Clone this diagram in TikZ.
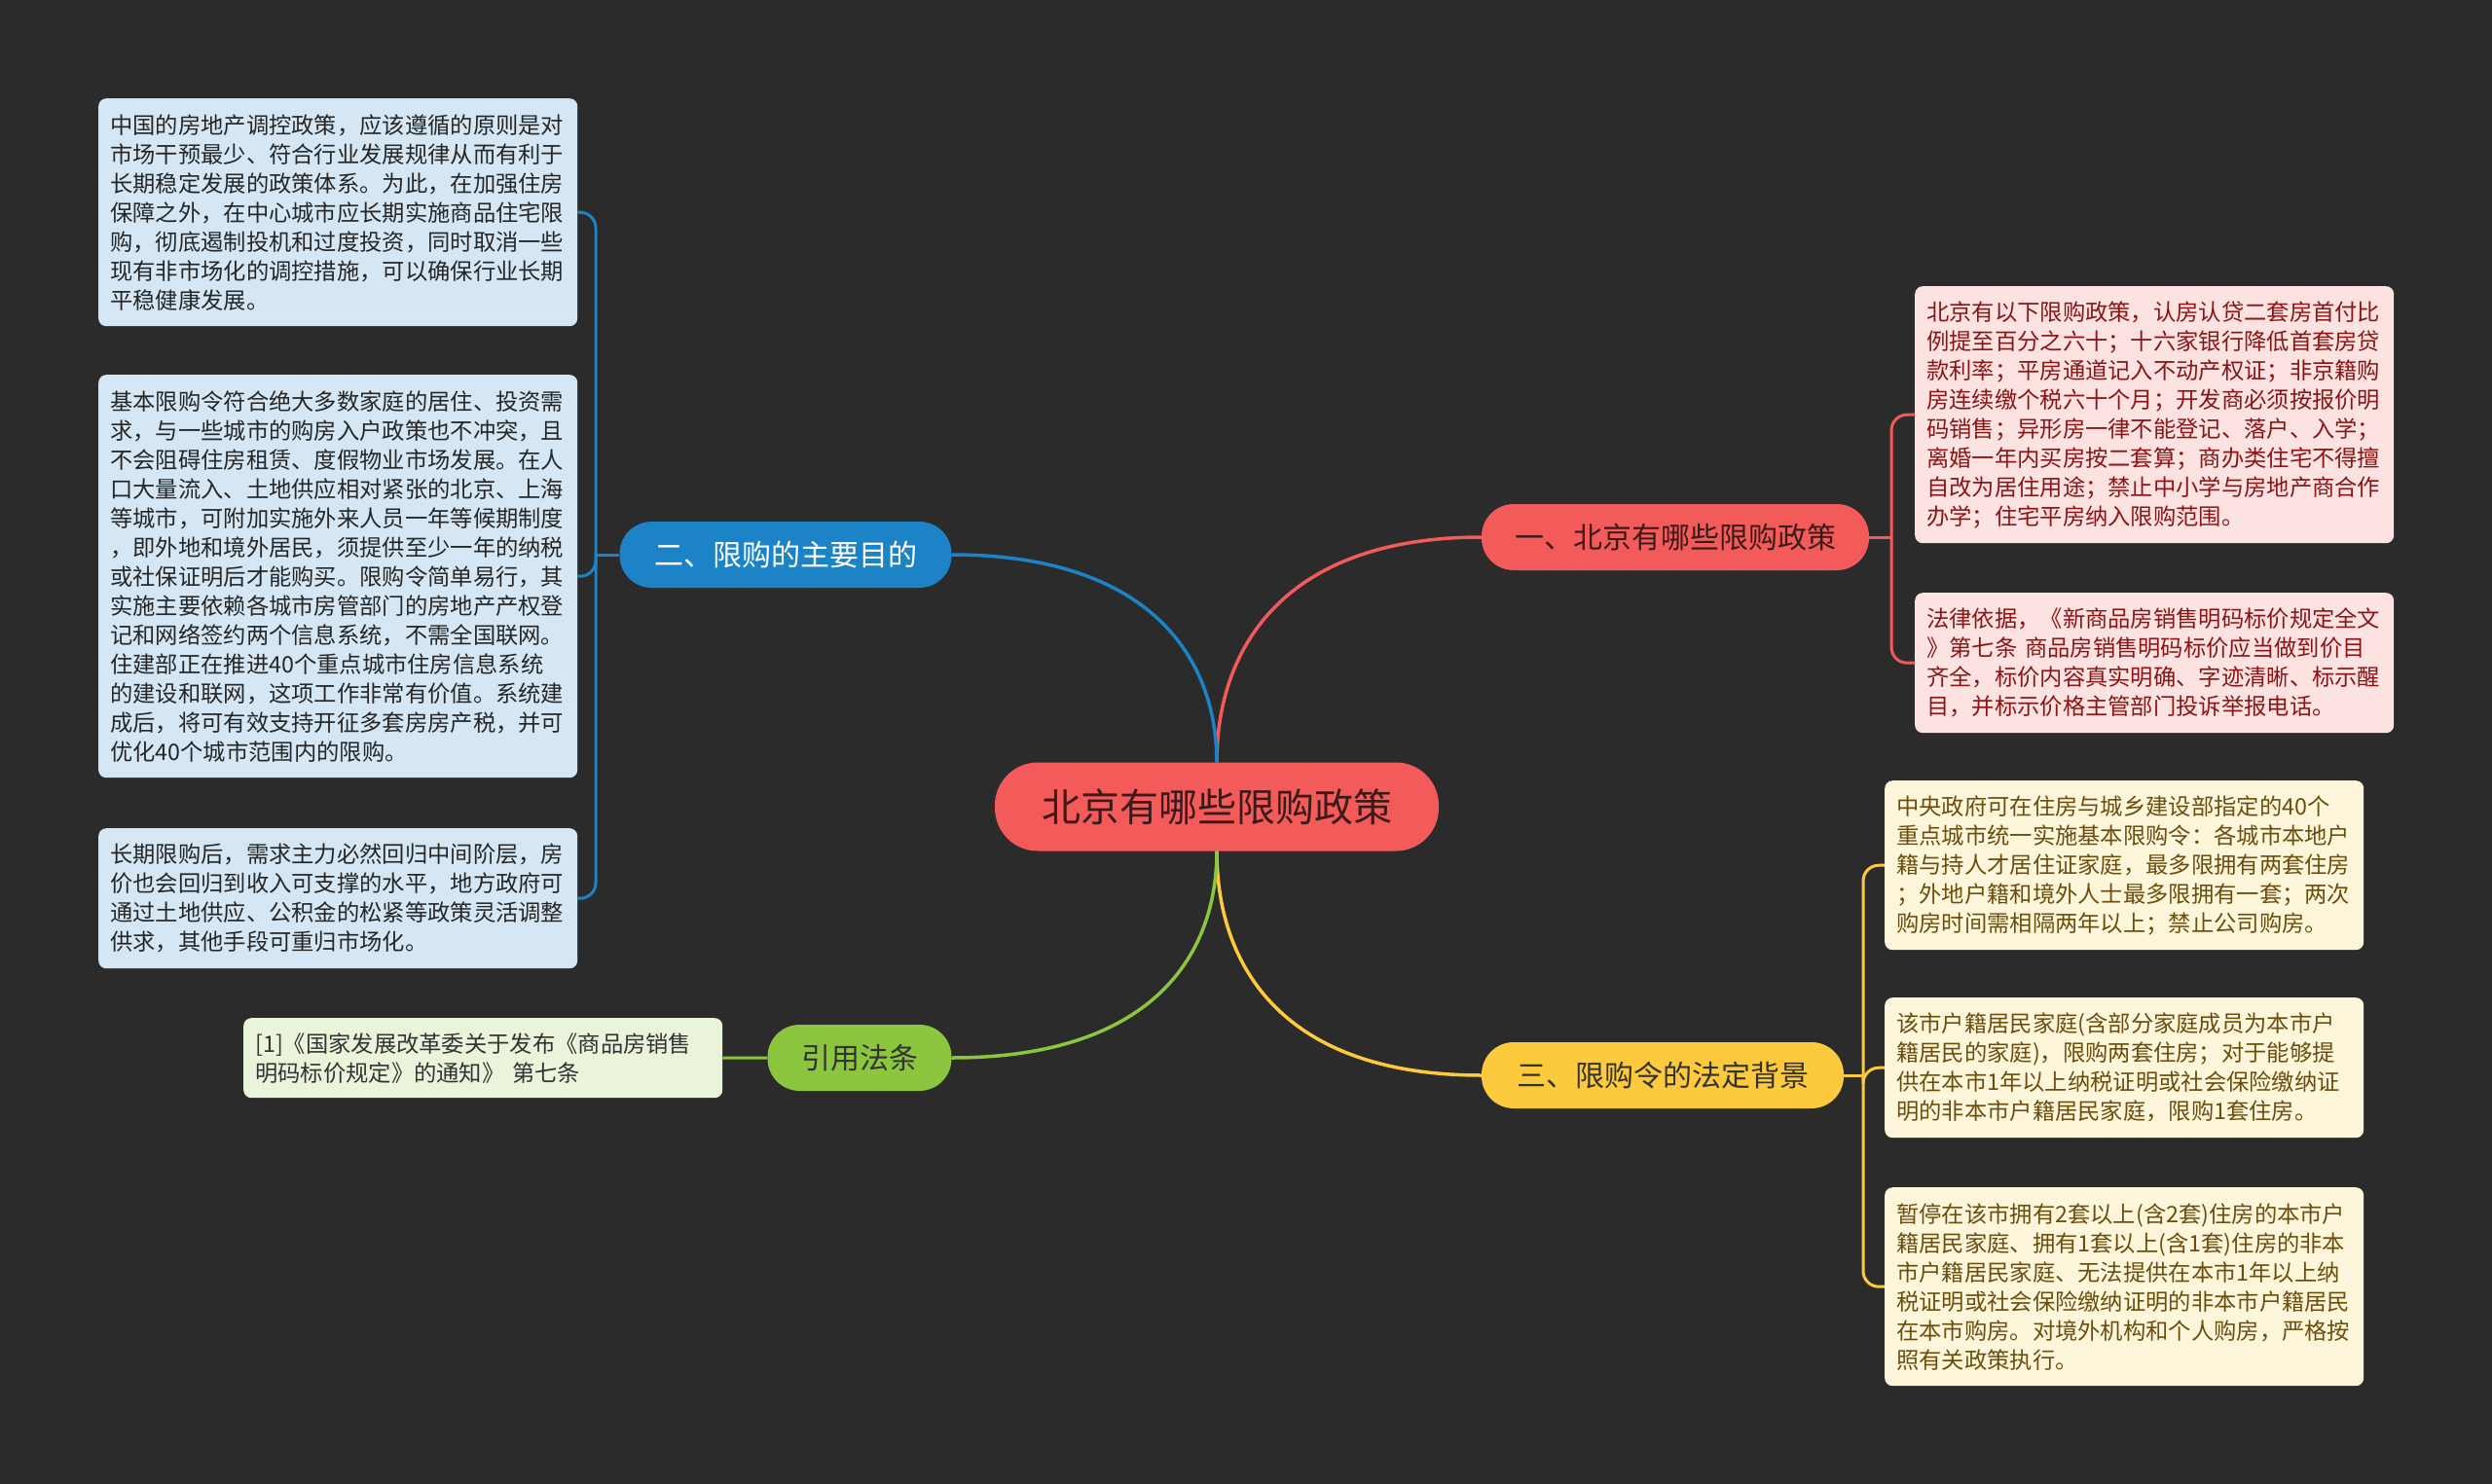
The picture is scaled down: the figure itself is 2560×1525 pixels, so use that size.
\documentclass[tikz,border=0pt]{standalone}
\usepackage{fontspec}
\newfontfamily\cjk{Noto Sans CJK SC}
\definecolor{bg}{HTML}{2B2B2B}
\definecolor{cred}{HTML}{F35B5B}
\definecolor{cblue}{HTML}{1C84C6}
\definecolor{cyellow}{HTML}{FDCA3E}
\definecolor{cgreen}{HTML}{8CC63E}
\definecolor{fblue}{HTML}{D5E7F4}
\definecolor{fred}{HTML}{FDE2E2}
\definecolor{fyellow}{HTML}{FEF6DB}
\definecolor{fgreen}{HTML}{E9F4DB}
\definecolor{tred}{HTML}{8A1515}
\definecolor{tyellow}{HTML}{6B4E0E}
\definecolor{tdark}{HTML}{3C1A1A}
\begin{document}
\begin{tikzpicture}[x=1pt,y=-1pt,
  leaf/.style={rectangle, rounded corners=8pt, minimum width=492pt, inner xsep=12pt, inner ysep=0pt,
    text width=468pt, align=left, anchor=north west, font=\cjk\fontsize{23.3}{30}\selectfont},
  leafblue/.style={leaf, fill=fblue, text=black!85},
  leafred/.style={leaf, fill=fred, text=tred},
  leafyellow/.style={leaf, fill=fyellow, text=tyellow},
  leafgreen/.style={leaf, fill=fgreen, text=black!80},
  branch/.style={rectangle, rounded corners=33pt, minimum height=68pt, inner xsep=0pt,
    font=\cjk\fontsize{30}{36}\selectfont},
  conn/.style={line width=3.5pt},
  brk/.style={line width=3pt, rounded corners=16pt}
]
\fill[bg] (0,0) rectangle (2560,1525);

% central
\node[rectangle, rounded corners=44pt, minimum width=456pt, minimum height=91pt, fill=cred, text=tdark,
  font=\cjk\fontsize{40}{46}\selectfont] (c) at (1250,829) {北京有哪些限购政策};

% branches
\node[branch, fill=cred, text=tdark, minimum width=398pt] (b1) at (1721,552) {一、北京有哪些限购政策};
\node[branch, fill=cblue, text=white, minimum width=341pt] (b2) at (807,570) {二、限购的主要目的};
\node[branch, fill=cyellow, text=black!80, minimum width=372pt] (b3) at (1708,1105) {三、限购令的法定背景};
\node[branch, fill=cgreen, text=black!80, minimum width=189pt] (b4) at (883,1087) {引用法条};

% left blue leaves
\node[leafblue, minimum height=234pt] (l1) at (101,101) {中国的房地产调控政策，应该遵循的原则是对\\市场干预最少、符合行业发展规律从而有利于\\长期稳定发展的政策体系。为此，在加强住房\\保障之外，在中心城市应长期实施商品住宅限\\购，彻底遏制投机和过度投资，同时取消一些\\现有非市场化的调控措施，可以确保行业长期\\平稳健康发展。};
\node[leafblue, minimum height=414pt] (l2) at (101,385) {基本限购令符合绝大多数家庭的居住、投资需\\求，与一些城市的购房入户政策也不冲突，且\\不会阻碍住房租赁、度假物业市场发展。在人\\口大量流入、土地供应相对紧张的北京、上海\\等城市，可附加实施外来人员一年等候期制度\\，即外地和境外居民，须提供至少一年的纳税\\或社保证明后才能购买。限购令简单易行，其\\实施主要依赖各城市房管部门的房地产产权登\\记和网络签约两个信息系统，不需全国联网。\\住建部正在推进40个重点城市住房信息系统\\的建设和联网，这项工作非常有价值。系统建\\成后，将可有效支持开征多套房房产税，并可\\优化40个城市范围内的限购。};
\node[leafblue, minimum height=144pt] (l3) at (101,851) {长期限购后，需求主力必然回归中间阶层，房\\价也会回归到收入可支撑的水平，地方政府可\\通过土地供应、公积金的松紧等政策灵活调整\\供求，其他手段可重归市场化。};

% green leaf
\node[leafgreen, minimum height=82pt] (g1) at (250,1046) {[1]《国家发展改革委关于发布《商品房销售\\明码标价规定》的通知》 第七条};

% red leaves
\node[leafred, minimum height=264pt] (r1) at (1967,294) {北京有以下限购政策，认房认贷二套房首付比\\例提至百分之六十；十六家银行降低首套房贷\\款利率；平房通道记入不动产权证；非京籍购\\房连续缴个税六十个月；开发商必须按报价明\\码销售；异形房一律不能登记、落户、入学；\\离婚一年内买房按二套算；商办类住宅不得擅\\自改为居住用途；禁止中小学与房地产商合作\\办学；住宅平房纳入限购范围。};
\node[leafred, minimum height=144pt] (r2) at (1967,609) {法律依据，《新商品房销售明码标价规定全文\\》第七条 商品房销售明码标价应当做到价目\\齐全，标价内容真实明确、字迹清晰、标示醒\\目，并标示价格主管部门投诉举报电话。};

% yellow leaves
\node[leafyellow, minimum height=174pt] (y1) at (1936,802) {中央政府可在住房与城乡建设部指定的40个\\重点城市统一实施基本限购令：各城市本地户\\籍与持人才居住证家庭，最多限拥有两套住房\\；外地户籍和境外人士最多限拥有一套；两次\\购房时间需相隔两年以上；禁止公司购房。};
\node[leafyellow, minimum height=144pt] (y2) at (1936,1025) {该市户籍居民家庭(含部分家庭成员为本市户\\籍居民的家庭)，限购两套住房；对于能够提\\供在本市1年以上纳税证明或社会保险缴纳证\\明的非本市户籍居民家庭，限购1套住房。};
\node[leafyellow, minimum height=204pt] (y3) at (1936,1220) {暂停在该市拥有2套以上(含2套)住房的本市户\\籍居民家庭、拥有1套以上(含1套)住房的非本\\市户籍居民家庭、无法提供在本市1年以上纳\\税证明或社会保险缴纳证明的非本市户籍居民\\在本市购房。对境外机构和个人购房，严格按\\照有关政策执行。};

% main connectors
\draw[conn, cred] (c.north) .. controls (1250,665) and (1320,552) .. (b1.west);
\draw[conn, cblue] (c.north) .. controls (1250,675) and (1180,570) .. (b2.east);
\draw[conn, cyellow] (c.south) .. controls (1250,995) and (1320,1105) .. (b3.west);
\draw[conn, cgreen] (c.south) .. controls (1250,985) and (1180,1087) .. (b4.east);

% brackets
\coordinate (jb) at (612,570);
\coordinate (jr) at (1943,552);
\coordinate (jy) at (1914,1105);
\draw[line width=3pt, cblue] (b2.west) -- (jb);
\draw[brk, cblue] (jb) |- (l1.east);
\draw[brk, cblue] (jb) |- (l2.east);
\draw[brk, cblue] (jb) |- (l3.east);
\draw[line width=3pt, cred] (b1.east) -- (jr);
\draw[brk, cred] (jr) |- (r1.west);
\draw[brk, cred] (jr) |- (r2.west);
\draw[line width=3pt, cyellow] (b3.east) -- (jy);
\draw[brk, cyellow] (jy) |- (y1.west);
\draw[brk, cyellow] (jy) |- (y2.west);
\draw[brk, cyellow] (jy) |- (y3.west);
\draw[line width=3pt, cgreen] (b4.west) -- (g1.east);
\end{tikzpicture}
\end{document}
